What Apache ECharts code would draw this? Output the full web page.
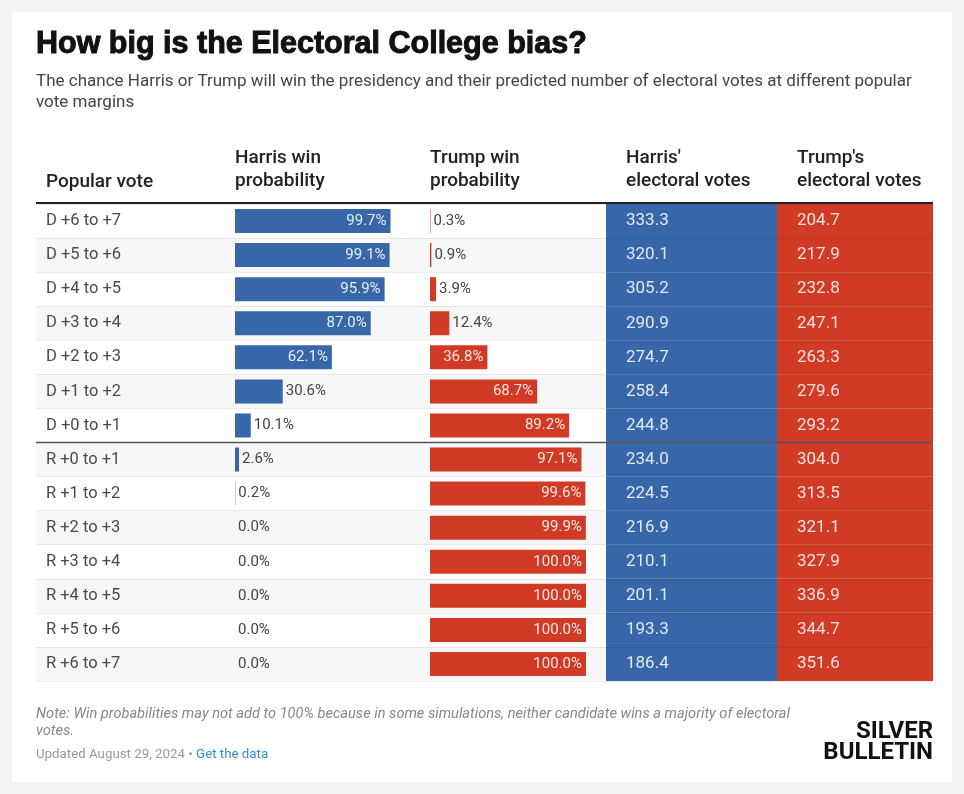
<!DOCTYPE html>
<html>
<head>
<meta charset="utf-8">
<script src="https://cdn.jsdelivr.net/npm/echarts@6/dist/echarts.min.js"></script>
<style>
html,body{margin:0;padding:0;background:#f4f4f4;}
#chart{width:964px;height:794px;}
</style>
</head>
<body>
<div id="chart"></div>
<script>
const categories = ['D +6 to +7','D +5 to +6','D +4 to +5','D +3 to +4','D +2 to +3','D +1 to +2','D +0 to +1',
  'R +0 to +1','R +1 to +2','R +2 to +3','R +3 to +4','R +4 to +5','R +5 to +6','R +6 to +7'];
const harrisWin = [99.7, 99.1, 95.9, 87.0, 62.1, 30.6, 10.1, 2.6, 0.2, 0.0, 0.0, 0.0, 0.0, 0.0];
const trumpWin = [0.3, 0.9, 3.9, 12.4, 36.8, 68.7, 89.2, 97.1, 99.6, 99.9, 100.0, 100.0, 100.0, 100.0];
const harrisEV = [333.3, 320.1, 305.2, 290.9, 274.7, 258.4, 244.8, 234.0, 224.5, 216.9, 210.1, 201.1, 193.3, 186.4];
const trumpEV = [204.7, 217.9, 232.8, 247.1, 263.3, 279.6, 293.2, 304.0, 313.5, 321.1, 327.9, 336.9, 344.7, 351.6];
const headers = ['Popular vote', 'Harris win\nprobability', 'Trump win\nprobability', "Harris'\nelectoral votes", "Trump's\nelectoral votes"];

const BLUE = '#3767a8', RED = '#d13b25';
const TOP = 204, H = 477, ROWH = H / categories.length;
const FONT = 'Roboto, "Noto Sans", sans-serif';

const chart = echarts.init(document.getElementById('chart'), null, {renderer: 'canvas'});

function probData(vals, color) {
  return vals.map(v => {
    const inside = v >= 35;
    return {
      value: v,
      itemStyle: {color: color},
      label: inside
        ? {position: 'insideRight', distance: 4, color: 'rgba(255,255,255,0.88)'}
        : {position: 'right', distance: 3, color: '#444'}
    };
  });
}

const grids = [
  {left: 36, width: 897, top: TOP, height: H},
  {left: 235, width: 156, top: TOP, height: H},
  {left: 430, width: 156, top: TOP, height: H},
  {left: 606, width: 171, top: TOP, height: H},
  {left: 777, width: 156, top: TOP, height: H},
  {left: 36, width: 897, top: TOP, height: H}
];

const xAxes = grids.map((g, i) => ({
  gridIndex: i, type: 'value', min: 0, max: (i === 3 || i === 4) ? 1 : 100, show: false
}));

const yAxes = grids.map((g, i) => ({
  gridIndex: i, type: 'category', data: categories, inverse: true,
  axisLine: {show: false}, axisTick: {show: false},
  axisLabel: i === 0 ? {show: true, align: 'left', margin: -10, fontSize: 16.5, color: '#4a4a4a', fontFamily: FONT} : {show: false},
  splitArea: i === 0 ? {show: true, areaStyle: {color: ['#ffffff', '#f7f7f7']}} : {show: false},
  splitLine: i === 5 ? {show: true, lineStyle: {color: 'rgba(0,0,0,0.07)', width: 1}} : {show: false},
  z: i === 5 ? 20 : 0
}));

const evLabel = (arr) => ({
  show: true, position: 'insideLeft', distance: 20, fontSize: 17, fontFamily: FONT,
  color: 'rgba(255,255,255,0.85)', formatter: p => arr[p.dataIndex].toFixed(1)
});

const pctLabel = {show: true, fontSize: 15, fontFamily: FONT, formatter: p => p.value.toFixed(1) + '%'};

const series = [
  {type: 'bar', xAxisIndex: 1, yAxisIndex: 1, barWidth: 24, data: probData(harrisWin, BLUE), label: pctLabel, silent: true},
  {type: 'bar', xAxisIndex: 2, yAxisIndex: 2, barWidth: 24, data: probData(trumpWin, RED), label: pctLabel, silent: true},
  {type: 'bar', xAxisIndex: 3, yAxisIndex: 3, barWidth: '100%', barCategoryGap: '0%',
    data: harrisEV.map(() => 1), itemStyle: {color: BLUE}, label: evLabel(harrisEV), silent: true},
  {type: 'bar', xAxisIndex: 4, yAxisIndex: 4, barWidth: '100%', barCategoryGap: '0%',
    data: trumpEV.map(() => 1), itemStyle: {color: RED}, label: evLabel(trumpEV), silent: true}
];

const headerX = [46, 235, 430, 626, 797];
const graphic = [
  {type: 'rect', z: -100, shape: {x: 12, y: 12, width: 940, height: 770}, style: {fill: '#ffffff'}},
  {type: 'text', x: 36, y: 45, style: {text: 'How big is the Electoral College bias?', font: 'bold 30.5px "Liberation Sans", Arial, sans-serif', fill: '#111', stroke: '#111', lineWidth: 1, verticalAlign: 'middle'}},
  {type: 'text', x: 36, y: 82, style: {text: 'The chance Harris or Trump will win the presidency and their predicted number of electoral votes at different popular', font: '17px ' + FONT, fill: '#444', verticalAlign: 'middle'}},
  {type: 'text', x: 36, y: 103, style: {text: 'vote margins', font: '17px ' + FONT, fill: '#444', verticalAlign: 'middle'}},
  {type: 'line', z: 100, shape: {x1: 36, y1: 203, x2: 933, y2: 203}, style: {stroke: '#222', lineWidth: 2}},
  {type: 'line', z: 100, shape: {x1: 36, y1: TOP + 7 * ROWH, x2: 933, y2: TOP + 7 * ROWH}, style: {stroke: '#555', lineWidth: 1.5}},
  {type: 'text', x: 36, y: 714, style: {text: 'Note: Win probabilities may not add to 100% because in some simulations, neither candidate wins a majority of electoral', font: 'italic 14.6px ' + FONT, fill: '#888', verticalAlign: 'middle'}},
  {type: 'text', x: 36, y: 731, style: {text: 'votes.', font: 'italic 14.6px ' + FONT, fill: '#888', verticalAlign: 'middle'}},
  {type: 'text', x: 36, y: 755, style: {text: '{a|Updated August 29, 2024 • }{b|Get the data}', verticalAlign: 'middle',
    rich: {a: {fontSize: 13.3, fontFamily: FONT, fill: '#999', color: '#999'}, b: {fontSize: 13.3, fontFamily: FONT, fill: '#2f8fd3', color: '#2f8fd3'}}}},
  {type: 'text', x: 933, y: 732, style: {text: 'SILVER', font: 'bold 24px "Liberation Sans Narrow", ' + FONT, fill: '#111', align: 'right', verticalAlign: 'middle'}},
  {type: 'text', x: 933, y: 753, style: {text: 'BULLETIN', font: 'bold 24px "Liberation Sans Narrow", ' + FONT, fill: '#111', align: 'right', verticalAlign: 'middle'}}
];
headers.forEach((h, i) => {
  const lines = h.split('\n');
  const f = '500 19px ' + FONT;
  if (lines.length === 1) {
    graphic.push({type: 'text', x: headerX[i], y: 182, style: {text: lines[0], font: f, fill: '#222', verticalAlign: 'middle'}});
  } else {
    graphic.push({type: 'text', x: headerX[i], y: 158, style: {text: lines[0], font: f, fill: '#222', verticalAlign: 'middle'}});
    graphic.push({type: 'text', x: headerX[i], y: 181, style: {text: lines[1], font: f, fill: '#222', verticalAlign: 'middle'}});
  }
});

chart.setOption({
  backgroundColor: '#f4f4f4',
  animation: false,
  textStyle: {fontFamily: FONT},
  grid: grids,
  xAxis: xAxes,
  yAxis: yAxes,
  series: series,
  graphic: graphic
});
</script>
</body>
</html>
